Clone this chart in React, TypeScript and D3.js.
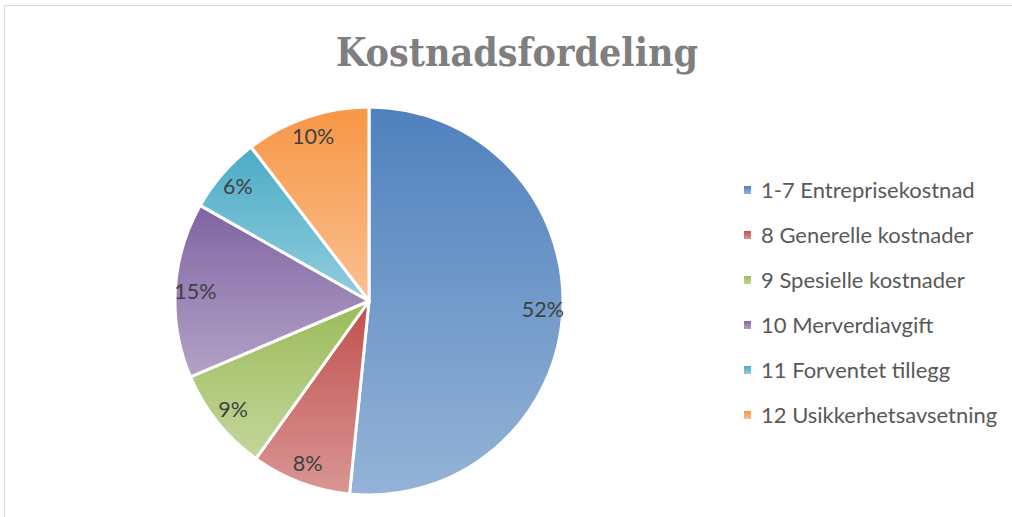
import React from "react";
import * as d3 from "d3";

const categories = [
  "1-7 Entreprisekostnad",
  "8 Generelle kostnader",
  "9 Spesielle kostnader",
  "10 Merverdiavgift",
  "11 Forventet tillegg",
  "12 Usikkerhetsavsetning",
];
const values = [51.6, 8.3, 8.7, 14.6, 6.4, 10.4];
const topColors = ["#4f81bd", "#c0504d", "#9bbb59", "#8064a2", "#4bacc6", "#f79646"];
const bottomColors = ["#95b3d7", "#d99694", "#c3d69b", "#b3a2c7", "#93cddd", "#fac090"];

const W = 1012;
const H = 517;
const cx = 369;
const cy = 301;
const R = 194;
const labelR = 174;

export default function App() {
  const total = d3.sum(values);
  const pie = d3.pie<number>().sort(null).value((d) => d)(values);
  const arc = d3.arc<d3.PieArcDatum<number>>().innerRadius(0).outerRadius(R);
  const labelArc = d3.arc<d3.PieArcDatum<number>>().innerRadius(labelR).outerRadius(labelR);
  const legendY = d3.scaleLinear().domain([0, categories.length - 1]).range([190, 415]);

  return (
    <div style={{ position: "absolute", left: 0, top: 0 }}>
      <svg width={W} height={H} style={{ display: "block" }}>
        <defs>
          {topColors.map((c, i) => (
            <linearGradient key={i} id={`g${i}`} x1="0" y1="0" x2="0" y2="1">
              <stop offset="0" stopColor={c} />
              <stop offset="1" stopColor={bottomColors[i]} />
            </linearGradient>
          ))}
        </defs>
        <rect x={0} y={0} width={W} height={H} fill="#fff" />
        <rect x={4.5} y={5.5} width={W + 10} height={H + 10} fill="none" stroke="#d9d9d9" strokeWidth={1} />
        <text
          x={517}
          y={66}
          textAnchor="middle"
          fontFamily="'DejaVu Serif Condensed', 'DejaVu Serif', serif"
          fontStretch="condensed"
          fontWeight="bold"
          fontSize={39}
          fill="#7f7f7f"
        >
          Kostnadsfordeling
        </text>
        <g transform={`translate(${cx},${cy})`}>
          {pie.map((p, i) => (
            <path key={i} d={arc(p) || ""} fill={`url(#g${i})`} stroke="#fff" strokeWidth={3} strokeLinejoin="round" />
          ))}
          {pie.map((p, i) => {
            const [x, y] = labelArc.centroid(p);
            return (
              <text
                key={i}
                x={x}
                y={y}
                dy="0.35em"
                textAnchor="middle"
                fontFamily="Lato, sans-serif"
                fontSize={21.5}
                fill="#404040"
              >
                {Math.round((p.data / total) * 100)}%
              </text>
            );
          })}
        </g>
        <g>
          {categories.map((c, i) => (
            <g key={i} transform={`translate(744,${legendY(i)})`}>
              <rect x={0} y={-4} width={7} height={8} fill={`url(#g${i})`} />
              <text x={17} y={0} dy="0.35em" fontFamily="Lato, sans-serif" fontSize={22} fill="#595959">
                {c}
              </text>
            </g>
          ))}
        </g>
      </svg>
    </div>
  );
}
